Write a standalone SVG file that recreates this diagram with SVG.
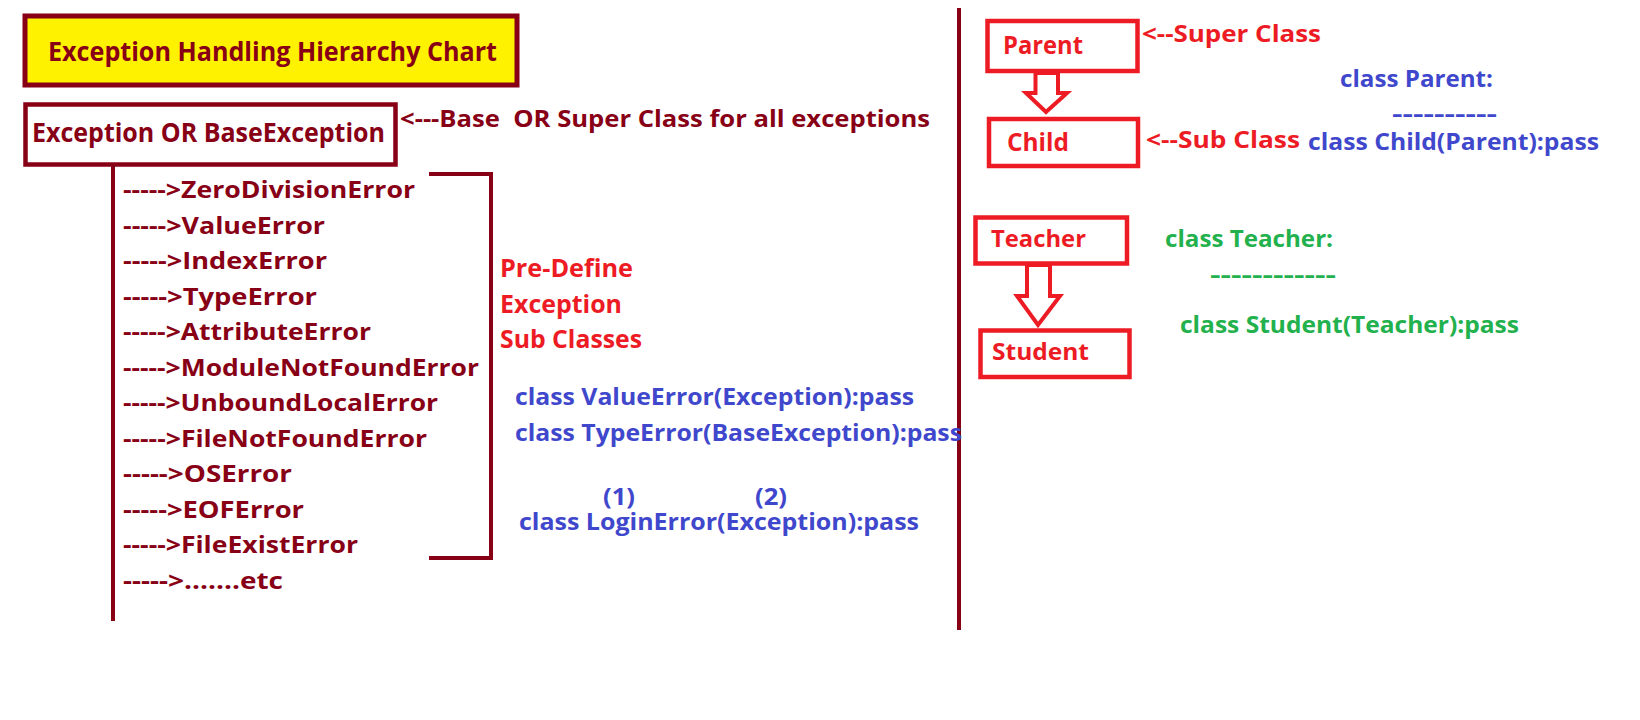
<svg xmlns="http://www.w3.org/2000/svg" width="1640" height="720" viewBox="0 0 1640 720">
<style>
text{font-family:"Open Sans","Noto Sans","Liberation Sans",sans-serif;font-weight:700}
.dr{fill:#880015}
.rd{fill:#ED1C24}
.bl{fill:#3F48CC}
.gr{fill:#22B14C}
.boxd{fill:#fff;stroke:#880015;stroke-width:4.5}
.boxr{fill:#fff;stroke:#ED1C24;stroke-width:4.5}
.ln{stroke:#880015;stroke-width:4;fill:none;stroke-linecap:square}
.arr{fill:#fff;stroke:#ED1C24;stroke-width:4;stroke-linejoin:miter}
.li{font-size:23.5px}
</style>
<rect width="1640" height="720" fill="#fff"/>
<g id="title">
<rect x="25" y="16" width="492" height="69" fill="#FFF200" stroke="#880015" stroke-width="5"/>
<text class="dr" x="48" y="61" font-size="27" textLength="449" lengthAdjust="spacingAndGlyphs">Exception Handling Hierarchy Chart</text>
</g>
<g id="base">
<rect class="boxd" x="25.5" y="104.5" width="370" height="60"/>
<text class="dr" x="32" y="142" font-size="27" textLength="353" lengthAdjust="spacingAndGlyphs">Exception OR BaseException</text>
</g>
<text class="dr" x="400" y="127" font-size="23.5" xml:space="preserve" textLength="530" lengthAdjust="spacingAndGlyphs">&lt;---Base  OR Super Class for all exceptions</text>
<g id="connectors">
<line class="ln" x1="113" y1="167" x2="113" y2="619"/>
<polyline class="ln" points="431,174 491,174 491,558 431,558"/>
<line x1="959" y1="8" x2="959" y2="630" stroke="#880015" stroke-width="4"/>
<polygon class="arr" points="1035.5,73 1035.5,93 1026,93 1046,112 1067,93 1058,93 1058,73"/>
<polygon class="arr" points="1027,265 1027,296 1017,296 1038,325 1060,296 1050,296 1050,265"/>
</g>
<g id="subclasses" class="li">
<text class="dr" x="123" y="198" textLength="292" lengthAdjust="spacingAndGlyphs">-----&gt;ZeroDivisionError</text>
<text class="dr" x="123" y="233.5" textLength="202" lengthAdjust="spacingAndGlyphs">-----&gt;ValueError</text>
<text class="dr" x="123" y="269" textLength="204" lengthAdjust="spacingAndGlyphs">-----&gt;IndexError</text>
<text class="dr" x="123" y="304.5" textLength="194" lengthAdjust="spacingAndGlyphs">-----&gt;TypeError</text>
<text class="dr" x="123" y="340" textLength="248" lengthAdjust="spacingAndGlyphs">-----&gt;AttributeError</text>
<text class="dr" x="123" y="375.5" textLength="356" lengthAdjust="spacingAndGlyphs">-----&gt;ModuleNotFoundError</text>
<text class="dr" x="123" y="411" textLength="315" lengthAdjust="spacingAndGlyphs">-----&gt;UnboundLocalError</text>
<text class="dr" x="123" y="446.5" textLength="304" lengthAdjust="spacingAndGlyphs">-----&gt;FileNotFoundError</text>
<text class="dr" x="123" y="482" textLength="169" lengthAdjust="spacingAndGlyphs">-----&gt;OSError</text>
<text class="dr" x="123" y="517.5" textLength="181" lengthAdjust="spacingAndGlyphs">-----&gt;EOFError</text>
<text class="dr" x="123" y="553" textLength="235" lengthAdjust="spacingAndGlyphs">-----&gt;FileExistError</text>
<text class="dr" x="123" y="588.5" textLength="160" lengthAdjust="spacingAndGlyphs">-----&gt;.......etc</text>
</g>
<g id="predefine">
<text class="rd" x="500" y="277" font-size="25" textLength="133" lengthAdjust="spacingAndGlyphs">Pre-Define</text>
<text class="rd" x="500" y="313" font-size="25" textLength="122" lengthAdjust="spacingAndGlyphs">Exception</text>
<text class="rd" x="500" y="348" font-size="25" textLength="142" lengthAdjust="spacingAndGlyphs">Sub Classes</text>
</g>
<g id="examples">
<text class="bl" x="515" y="405" font-size="24" textLength="399" lengthAdjust="spacingAndGlyphs">class ValueError(Exception):pass</text>
<text class="bl" x="515" y="441" font-size="24" textLength="447" lengthAdjust="spacingAndGlyphs">class TypeError(BaseException):pass</text>
<text class="bl" x="603" y="505" font-size="23" textLength="32" lengthAdjust="spacingAndGlyphs">(1)</text>
<text class="bl" x="755" y="505" font-size="23" textLength="32" lengthAdjust="spacingAndGlyphs">(2)</text>
<text class="bl" x="519" y="530" font-size="24" textLength="400" lengthAdjust="spacingAndGlyphs">class LoginError(Exception):pass</text>
</g>
<g id="parent">
<rect class="boxr" x="987.5" y="21" width="150" height="50"/>
<text class="rd" x="1003" y="54" font-size="25" textLength="80" lengthAdjust="spacingAndGlyphs">Parent</text>
</g>
<text class="rd" x="1142" y="42" font-size="24" textLength="179" lengthAdjust="spacingAndGlyphs">&lt;--Super Class</text>
<g id="child">
<rect class="boxr" x="989" y="119" width="149" height="47"/>
<text class="rd" x="1007" y="151" font-size="25" textLength="62" lengthAdjust="spacingAndGlyphs">Child</text>
</g>
<text class="rd" x="1146" y="148" font-size="24" textLength="154" lengthAdjust="spacingAndGlyphs">&lt;--Sub Class</text>
<text class="bl" x="1340" y="87" font-size="23" textLength="153" lengthAdjust="spacingAndGlyphs">class Parent:</text>
<text class="bl" x="1392" y="122" font-size="23" textLength="105" lengthAdjust="spacingAndGlyphs">----------</text>
<text class="bl" x="1308" y="150" font-size="23" textLength="291" lengthAdjust="spacingAndGlyphs">class Child(Parent):pass</text>
<g id="teacher">
<rect class="boxr" x="975.5" y="217.5" width="151.5" height="46"/>
<text class="rd" x="991" y="247" font-size="24" textLength="95" lengthAdjust="spacingAndGlyphs">Teacher</text>
</g>
<g id="student">
<rect class="boxr" x="980.5" y="330.5" width="149" height="46.5"/>
<text class="rd" x="992" y="360" font-size="24" textLength="97" lengthAdjust="spacingAndGlyphs">Student</text>
</g>
<text class="gr" x="1165" y="247" font-size="23" textLength="168" lengthAdjust="spacingAndGlyphs">class Teacher:</text>
<text class="gr" x="1210" y="283" font-size="23" textLength="126" lengthAdjust="spacingAndGlyphs">------------</text>
<text class="gr" x="1180" y="333" font-size="23" textLength="339" lengthAdjust="spacingAndGlyphs">class Student(Teacher):pass</text>
</svg>
